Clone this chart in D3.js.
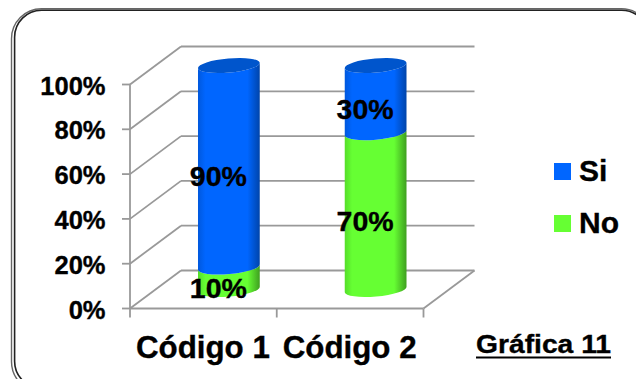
<!DOCTYPE html>
<html>
<head>
<meta charset="utf-8">
<script src="https://cdn.jsdelivr.net/npm/d3@7/dist/d3.min.js"></script>
<style>
html,body{margin:0;padding:0;background:#fff;overflow:hidden}
text{font-family:"Liberation Sans",Arial,sans-serif;font-weight:bold;fill:#000;stroke:#000;stroke-width:.35px}
</style>
</head>
<body>
<svg id="chart" width="636" height="379"></svg>
<script>
const categories = ["Código 1", "Código 2"];
const seriesNames = ["No", "Si"];
const noValues = [10, 70];
const siValues = [90, 30];
const yTicks = [0, 20, 40, 60, 80, 100];
const seriesColors = ["#66ff33", "#0066ff"];
const seriesEdges = ["#3f9f20", "#0044aa"];
const seriesSoft = ["#55dd2a", "#0058dd"];
const seriesTops = ["#55dd2a", "#0055cc"];
const chartTitle = "Gráfica 11";

const svg = d3.select("#chart");
const defs = svg.append("defs");

// Front plane of the 3D box, and how far the back wall is pushed away
const plot = {left: 130, right: 423.5, top: 84.5, bottom: 308.5, depthX: 51, depthY: -38};
const y = d3.scaleLinear().domain([0, 100]).range([plot.bottom, plot.top]);
const x = d3.scaleBand().domain(categories).range([plot.left, plot.right]);

// Rounded double frame; its right and bottom edges run past the page
[
  {x: 11.5, y: 8.8, w: 640, h: 383, r: 30, color: "#666", width: 1.4},
  {x: 14.6, y: 10.2, w: 634, h: 378, r: 27, color: "#222", width: 1.6}
].forEach(f => {
  svg.append("rect").attr("x", f.x).attr("y", f.y).attr("width", f.w).attr("height", f.h)
    .attr("rx", f.r).attr("fill", "none").attr("stroke", f.color).attr("stroke-width", f.width);
});

// Grid: one segment across the side wall and one across the back wall
const gridColor = "#999";
const grid = svg.append("g").attr("stroke", gridColor).attr("stroke-width", 1.8).attr("fill", "none");
yTicks.forEach(t => {
  const yy = y(t);
  grid.append("line").attr("x1", plot.left).attr("y1", yy)
    .attr("x2", plot.left + plot.depthX).attr("y2", yy + plot.depthY);
  grid.append("line").attr("x1", plot.left + plot.depthX).attr("y1", yy + plot.depthY)
    .attr("x2", plot.right + plot.depthX).attr("y2", yy + plot.depthY);
  grid.append("line").attr("x1", plot.left - 8).attr("y1", yy).attr("x2", plot.left).attr("y2", yy);
});
grid.append("line").attr("x1", plot.left).attr("y1", y(100)).attr("x2", plot.left).attr("y2", plot.bottom + 9);
grid.append("line").attr("x1", plot.left).attr("y1", plot.bottom).attr("x2", plot.right).attr("y2", plot.bottom);
grid.append("line").attr("x1", plot.right).attr("y1", plot.bottom)
  .attr("x2", plot.right + plot.depthX).attr("y2", plot.bottom + plot.depthY);
[plot.left + x.step(), plot.right].forEach(px => {
  grid.append("line").attr("x1", px).attr("y1", plot.bottom).attr("x2", px).attr("y2", plot.bottom + 9);
});

// Value axis labels
svg.append("g").selectAll("text").data(yTicks).join("text")
  .attr("text-anchor", "end")
  .attr("x", 105.5).attr("y", d => y(d) + 10)
  .style("font-size", "25.5px")
  .text(d => d + "%");

// Horizontal shading that rounds each cylinder
seriesColors.forEach((c, i) => {
  const g = defs.append("linearGradient").attr("id", "side" + i);
  g.append("stop").attr("offset", "0%").attr("stop-color", seriesSoft[i]);
  g.append("stop").attr("offset", "12%").attr("stop-color", c);
  g.append("stop").attr("offset", "80%").attr("stop-color", c);
  g.append("stop").attr("offset", "100%").attr("stop-color", seriesEdges[i]);
});

// Cylinder geometry; the ellipses lean upward to the right
const radiusX = 31, radiusY = 7, lean = -5;
const cx = c => x(c) + x.bandwidth() / 2 + plot.depthX / 2;
const cy = v => y(v) + plot.depthY / 2;
const ex = Math.cos(lean * Math.PI / 180) * radiusX;
const ey = Math.sin(lean * Math.PI / 180) * radiusX;

function segmentPath(c, v0, v1) {
  const X = cx(c), Y0 = cy(v0), Y1 = cy(v1);
  return `M${X - ex},${Y1 - ey} L${X - ex},${Y0 - ey}` +
    `A${radiusX},${radiusY} ${lean} 0 0 ${X + ex},${Y0 + ey}` +
    `L${X + ex},${Y1 + ey}` +
    `A${radiusX},${radiusY} ${lean} 0 1 ${X - ex},${Y1 - ey}Z`;
}

const stacked = categories.map((c, i) => ({c, no: noValues[i], si: siValues[i]}));
const barLayer = svg.append("g");
stacked.forEach(d => {
  barLayer.append("path").attr("d", segmentPath(d.c, 0, d.no)).attr("fill", "url(#side0)");
  barLayer.append("path").attr("d", segmentPath(d.c, d.no, d.no + d.si)).attr("fill", "url(#side1)");
  barLayer.append("ellipse")
    .attr("rx", radiusX).attr("ry", radiusY)
    .attr("transform", `translate(${cx(d.c)},${cy(d.no + d.si)}) rotate(${lean})`)
    .attr("fill", seriesTops[1]);
});

// Value labels sit at the middle of each segment, nudged toward the front
const labelLayer = svg.append("g").attr("text-anchor", "middle").style("font-size", "28.5px");
stacked.forEach(d => {
  const lx = x(d.c) + x.bandwidth() / 2 + 15;
  labelLayer.append("text").attr("x", lx).attr("y", y(d.no / 2) + 1).text(d.no + "%");
  labelLayer.append("text").attr("x", lx).attr("y", y(d.no + d.si / 2) + 1).text(d.si + "%");
});

// Category labels
svg.append("g").selectAll("text").data(categories).join("text")
  .attr("text-anchor", "middle")
  .attr("x", d => x(d) + x.bandwidth() / 2 - 0.5)
  .attr("y", 358)
  .style("font-size", "31.3px")
  .text(d => d);

// Legend, Si first
const legendRows = [1, 0];
const legend = svg.append("g");
legendRows.forEach((s, i) => {
  const ly = 163 + i * 52;
  legend.append("rect").attr("x", 554).attr("y", ly).attr("width", 17).attr("height", 17).attr("fill", seriesColors[s]);
  legend.append("text").attr("x", 579).attr("y", ly + 18).style("font-size", "30px").text(seriesNames[s]);
});

// Underlined chart caption
svg.append("text").attr("x", 476).attr("y", 353).style("font-size", "25px")
  .attr("textLength", 135).attr("lengthAdjust", "spacingAndGlyphs").text(chartTitle);
svg.append("line").attr("x1", 476).attr("x2", 611).attr("y1", 357.5).attr("y2", 357.5)
  .attr("stroke", "#000").attr("stroke-width", 2);
</script>
</body>
</html>
